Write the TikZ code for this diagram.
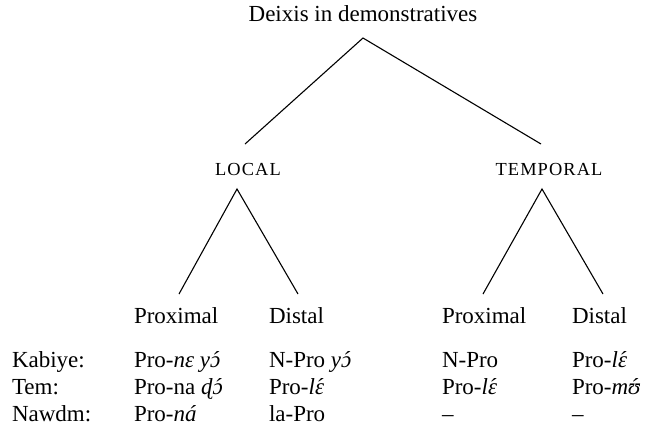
\documentclass[tikz,border=0pt]{standalone}
\usepackage{fontspec}
\setmainfont{Liberation Serif}
\newfontfamily\capsfont[LetterSpace=6]{Liberation Serif}
\newcommand{\acu}[1]{\accent"B4 #1}
\usetikzlibrary{calc}

\begin{document}
\begin{tikzpicture}[x=0.5pt,y=-0.5pt,every node/.style={inner sep=0pt,outer sep=0pt,font=\fontsize{11.5}{14}\selectfont}]

\tikzstyle{cat}=[anchor=base,font=\capsfont\fontsize{9.2}{11}\selectfont]
\tikzstyle{cell}=[anchor=base west]
\tikzstyle{branch}=[line width=0.55pt]

\useasboundingbox (0,0) rectangle (652,441);

\node (deixis) [anchor=base] at (363,21) {Deixis in demonstratives};
\node (local) [cat] at (248,175) {LOCAL};
\node (temporal) [cat] at (549,175) {TEMPORAL};

% joints of the tree
\coordinate (deixis foot) at (363,38);
\coordinate (local head) at (245,144);
\coordinate (temporal head) at (541,144);
\coordinate (local foot) at (237,189);
\coordinate (temporal foot) at (542,189);
\coordinate (lprox head) at (179,294);
\coordinate (ldist head) at (298,294);
\coordinate (tprox head) at (483,294);
\coordinate (tdist head) at (603,294);

\draw[branch] (local head) -- (deixis foot) -- (temporal head);
\draw[branch] (lprox head) -- (local foot) -- (ldist head);
\draw[branch] (tprox head) -- (temporal foot) -- (tdist head);

\node (lprox) [cell] at (134,323) {Proximal};
\node (ldist) [cell] at (269,323) {Distal};
\node (tprox) [cell] at (442,323) {Proximal};
\node (tdist) [cell] at (572,323) {Distal};

% rows of the table
\node (kabiye) [cell] at (12,367) {Kabiye:};
\node (kabiye 1) [cell] at (134,367) {Pro-\textit{nɛ y\acu{ɔ}}};
\node (kabiye 2) [cell] at (269,367) {N-Pro \textit{y\acu{ɔ}}};
\node (kabiye 3) [cell] at (442,367) {N-Pro};
\node (kabiye 4) [cell] at (572,367) {Pro-\textit{l\acu{ɛ}}};

\node (tem) [cell] at (12,394) {Tem:};
\node (tem 1) [cell] at (134,394) {Pro-na \textit{ɖ\acu{ɔ}}};
\node (tem 2) [cell] at (269,394) {Pro-\textit{l\acu{ɛ}}};
\node (tem 3) [cell] at (442,394) {Pro-\textit{l\acu{ɛ}}};
\node (tem 4) [cell] at (572,394) {Pro-\textit{m\acu{ʊ}}};

\node (nawdm) [cell] at (12,421) {Nawdm:};
\node (nawdm 1) [cell] at (134,421) {Pro-\textit{ná}};
\node (nawdm 2) [cell] at (269,421) {la-Pro};
\node (nawdm 3) [cell] at (442,421) {--};
\node (nawdm 4) [cell] at (572,421) {--};
\end{tikzpicture}
\end{document}
